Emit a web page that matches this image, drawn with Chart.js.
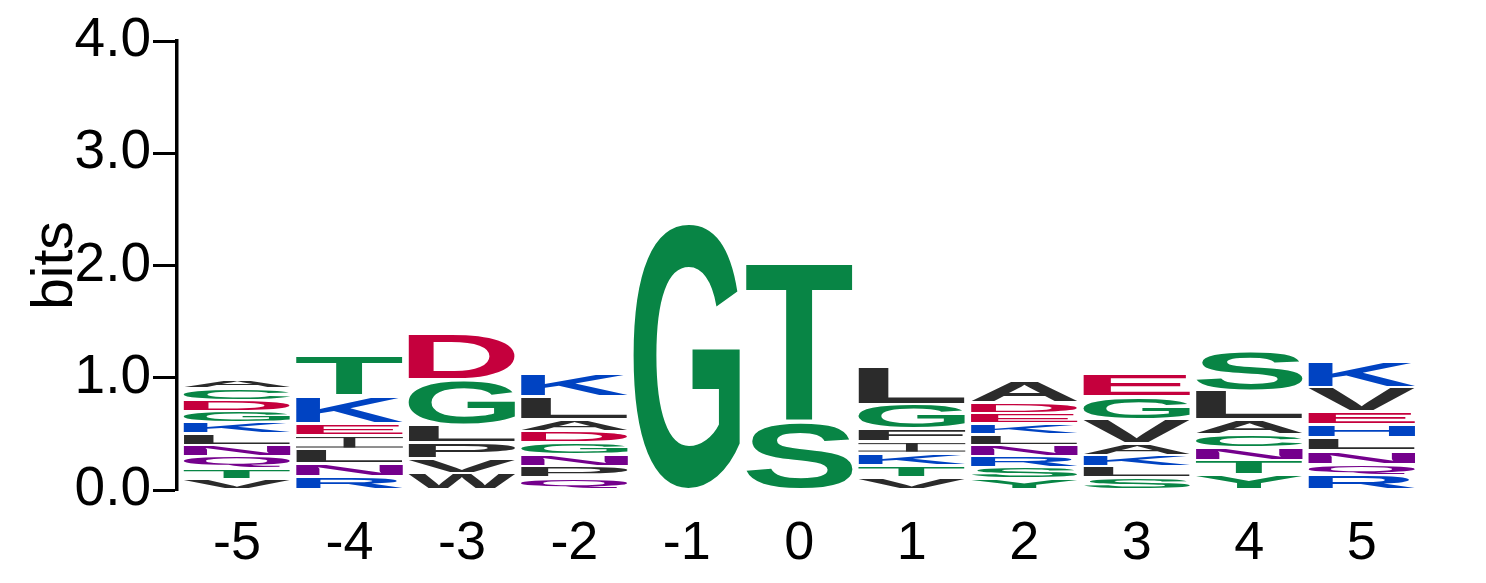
<!DOCTYPE html>
<html lang="en">
<head>
    <meta charset="UTF-8">
    <meta name="viewport" content="width=device-width, initial-scale=1.0">
    <title>Sequence Logo</title>
    <style>
        body {
            margin: 0;
            background-color: #ffffff;
        }
        .wrap {
            width: 1486px;
            height: 583px;
        }
    </style>
</head>
<body>
    <div class="wrap"><canvas id="logoChart"></canvas></div>

    <script src="https://cdn.jsdelivr.net/npm/chart.js"></script>
    <script>
        // positions along the x axis
        const positions = [-5, -4, -3, -2, -1, 0, 1, 2, 3, 4, 5];
        const yTicks = [0, 1, 2, 3, 4];

        // letters of each column, bottom -> top
        const letters = [
            ['V', 'T', 'Q', 'N', 'L', 'K', 'G', 'D', 'C', 'A'],
            ['R', 'N', 'L', 'I', 'E', 'K', 'T'],
            ['W', 'V', 'P', 'L', 'G', 'D'],
            ['Q', 'P', 'N', 'G', 'D', 'A', 'L', 'K'],
            ['G'],
            ['S', 'T'],
            ['V', 'T', 'K', 'I', 'F', 'G', 'L'],
            ['Y', 'S', 'R', 'N', 'L', 'K', 'E', 'D', 'A'],
            ['S', 'L', 'K', 'A', 'V', 'G', 'E'],
            ['Y', 'T', 'N', 'C', 'A', 'L', 'S'],
            ['R', 'Q', 'N', 'L', 'H', 'E', 'V', 'K']
        ];

        // height of each letter in bits, same order
        const bits = [
            [0.10, 0.09, 0.11, 0.10, 0.10, 0.10, 0.10, 0.10, 0.11, 0.08],
            [0.12, 0.12, 0.125, 0.12, 0.11, 0.245, 0.355],
            [0.15, 0.13, 0.14, 0.16, 0.40, 0.41],
            [0.11, 0.10, 0.105, 0.105, 0.10, 0.105, 0.205, 0.205],
            [2.38],
            [0.61, 1.415],
            [0.115, 0.105, 0.11, 0.10, 0.115, 0.22, 0.33],
            [0.10, 0.10, 0.10, 0.10, 0.095, 0.095, 0.095, 0.095, 0.195],
            [0.11, 0.10, 0.10, 0.10, 0.215, 0.205, 0.21],
            [0.135, 0.125, 0.115, 0.12, 0.13, 0.26, 0.35],
            [0.13, 0.10, 0.12, 0.115, 0.115, 0.115, 0.22, 0.23]
        ];

        const FONT = '"Liberation Sans", Arial, sans-serif';

        function letterColor(ch) {
            if ('GSTYC'.includes(ch)) return '#088545';
            if ('NQ'.includes(ch)) return '#74008c';
            if ('KRH'.includes(ch)) return '#0043c2';
            if ('DE'.includes(ch)) return '#c5003d';
            return '#2b2b2b';
        }

        // stretch one glyph so that its ink fills the box
        function drawLetter(ctx, ch, x, y, w, h) {
            ctx.fillStyle = letterColor(ch);
            if (ch === 'I') {
                const s = Math.max(1, h * 0.1);
                ctx.fillRect(x, y, w, s);
                ctx.fillRect(x, y + h - s, w, s);
                ctx.fillRect(x + w * 0.445, y, w * 0.11, h);
                return;
            }
            const m = ctx.measureText(ch);
            const gw = m.actualBoundingBoxLeft + m.actualBoundingBoxRight;
            const gh = m.actualBoundingBoxAscent + m.actualBoundingBoxDescent;
            ctx.save();
            ctx.translate(x, y);
            ctx.scale(w / gw, h / gh);
            ctx.fillText(ch, m.actualBoundingBoxLeft, m.actualBoundingBoxAscent);
            ctx.restore();
        }

        const logoLetters = {
            id: 'logoLetters',
            afterDatasetsDraw(chart) {
                const ctx = chart.ctx;
                ctx.save();
                ctx.font = 'bold 200px ' + FONT;
                ctx.textAlign = 'left';
                ctx.textBaseline = 'alphabetic';
                chart.data.datasets.forEach((ds, d) => {
                    const meta = chart.getDatasetMeta(d);
                    meta.data.forEach((el, i) => {
                        const ch = letters[i][d];
                        if (!ch) return;
                        const p = el.getProps(['x', 'y', 'base', 'width'], true);
                        const top = Math.min(p.y, p.base);
                        const h = Math.abs(p.base - p.y);
                        const gap = Math.min(3, h * 0.25);
                        drawLetter(ctx, ch, p.x - p.width / 2, top + gap / 2, p.width, h - gap);
                    });
                });
                ctx.restore();
            }
        };

        const levels = Math.max(...letters.map(l => l.length));
        const datasets = [];
        for (let d = 0; d < levels; d++) {
            datasets.push({
                data: positions.map((p, i) => ({ x: p, y: bits[i][d] !== undefined ? bits[i][d] : null })),
                backgroundColor: 'rgba(0,0,0,0)',
                borderWidth: 0,
                categoryPercentage: 1,
                barPercentage: 0.95
            });
        }

        Chart.defaults.font.family = FONT;

        new Chart(document.getElementById('logoChart'), {
            type: 'bar',
            data: { datasets: datasets },
            plugins: [logoLetters],
            options: {
                responsive: true,
                maintainAspectRatio: false,
                animation: false,
                layout: { padding: { top: 41, right: 68, left: 0, bottom: 0 } },
                plugins: {
                    legend: { display: false },
                    tooltip: { enabled: false }
                },
                scales: {
                    x: {
                        type: 'linear',
                        stacked: true,
                        offset: false,
                        min: -5.533,
                        max: 5.5,
                        afterBuildTicks: s => { s.ticks = positions.map(v => ({ value: v })); },
                        afterFit: s => { s.height = 93; },
                        grid: { display: false, drawTicks: false },
                        border: { display: false },
                        ticks: {
                            color: '#000',
                            font: { size: 54 },
                            padding: 22,
                            maxRotation: 0,
                            autoSkip: false,
                            callback: v => String(v)
                        }
                    },
                    y: {
                        stacked: true,
                        min: 0,
                        max: 4,
                        afterBuildTicks: s => { s.ticks = yTicks.map(v => ({ value: v })); },
                        afterFit: s => { s.width = 177; },
                        grid: { drawOnChartArea: false, tickLength: 24, tickWidth: 3, tickColor: '#000' },
                        border: { display: true, color: '#000', width: 3.5 },
                        ticks: {
                            color: '#000',
                            font: { size: 55 },
                            padding: 2,
                            callback: v => v.toFixed(1)
                        },
                        title: {
                            display: true,
                            text: 'bits',
                            color: '#000',
                            font: { size: 57 },
                            padding: { top: 22, bottom: 0 }
                        }
                    }
                }
            }
        });
    </script>
</body>
</html>
